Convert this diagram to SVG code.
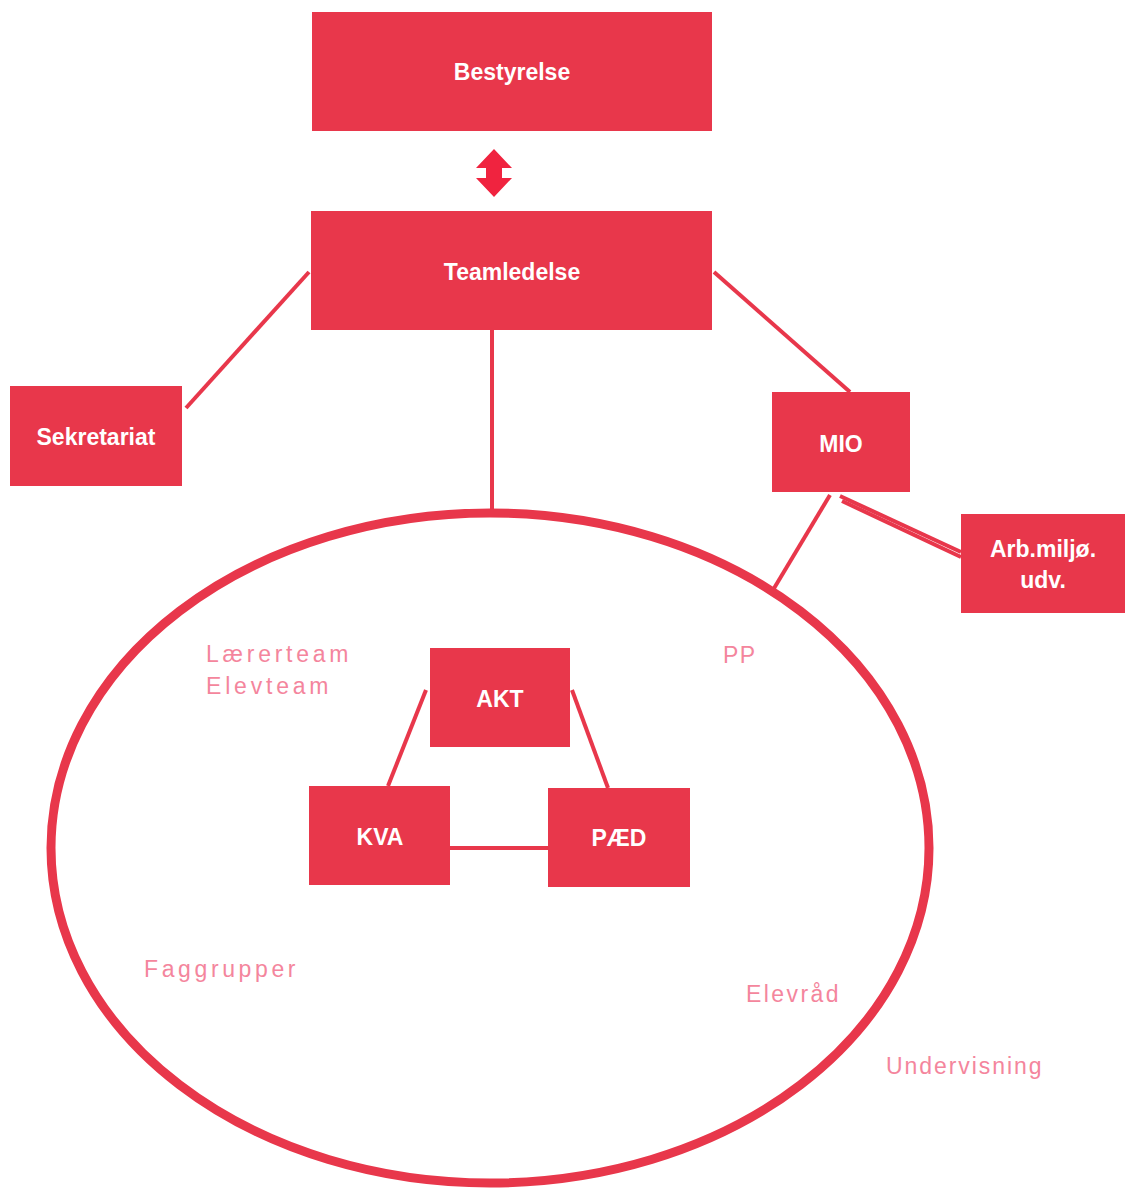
<svg xmlns="http://www.w3.org/2000/svg" width="1125" height="1190" viewBox="0 0 1125 1190">
<style>
.box{fill:#e8374b}
.lbl{fill:#ffffff;font-family:"Liberation Sans",Arial,sans-serif;font-size:23px;font-weight:bold;text-anchor:middle;dominant-baseline:central}
.ln{stroke:#e8374b;stroke-width:4;fill:none}
.faint{fill:#f3708c;font-family:"Liberation Sans",Arial,sans-serif;font-size:23px;letter-spacing:1.5px;opacity:0.85}
</style>
<rect width="1125" height="1190" fill="#ffffff"/>
<g id="connectors">
<line class="ln" x1="309" y1="272" x2="186" y2="408"/>
<line class="ln" x1="714" y1="272" x2="850" y2="392"/>
<line class="ln" x1="492" y1="330" x2="492" y2="510"/>
<line class="ln" x1="830" y1="495" x2="773" y2="590"/>
<line class="ln" x1="840" y1="496" x2="961" y2="552" stroke-width="1.5"/>
<line class="ln" x1="842" y1="501" x2="961" y2="557" stroke-width="1.5"/>
<line class="ln" x1="426" y1="690" x2="388" y2="786" stroke-width="3"/>
<line class="ln" x1="572" y1="690" x2="608" y2="788" stroke-width="3"/>
<line class="ln" x1="450" y1="848" x2="548" y2="848"/>
<path d="M494,149 L512,168 L502,168 L502,178 L512,178 L494,197 L476,178 L486,178 L486,168 L476,168 Z" fill="#f0233f"/>
</g>
<g id="ellipse">
<ellipse cx="490" cy="848" rx="439" ry="335" fill="none" stroke="#e8374b" stroke-width="9"/>
</g>
<g id="bestyrelse"><rect class="box" x="312" y="12" width="400" height="119"/><text class="lbl" x="512" y="72">Bestyrelse</text></g>
<g id="teamledelse"><rect class="box" x="311" y="211" width="401" height="119"/><text class="lbl" x="512" y="272">Teamledelse</text></g>
<g id="sekretariat"><rect class="box" x="10" y="386" width="172" height="100"/><text class="lbl" x="96" y="437">Sekretariat</text></g>
<g id="mio"><rect class="box" x="772" y="392" width="138" height="100"/><text class="lbl" x="841" y="444">MIO</text></g>
<g id="arb"><rect class="box" x="961" y="514" width="164" height="99"/><text class="lbl" x="1043" y="549">Arb.miljø.</text><text class="lbl" x="1043" y="580">udv.</text></g>
<g id="akt"><rect class="box" x="430" y="648" width="140" height="99"/><text class="lbl" x="500" y="699">AKT</text></g>
<g id="kva"><rect class="box" x="309" y="786" width="141" height="99"/><text class="lbl" x="380" y="837">KVA</text></g>
<g id="paed"><rect class="box" x="548" y="788" width="142" height="99"/><text class="lbl" x="619" y="838">PÆD</text></g>
<g id="labels">
<text class="faint" x="206" y="662" textLength="144" lengthAdjust="spacing">Lærerteam</text>
<text class="faint" x="206" y="694" textLength="124" lengthAdjust="spacing">Elevteam</text>
<text class="faint" x="723" y="663">PP</text>
<text class="faint" x="144" y="977" textLength="153" lengthAdjust="spacing">Faggrupper</text>
<text class="faint" x="746" y="1002" textLength="94" lengthAdjust="spacing">Elevråd</text>
<text class="faint" x="886" y="1074" opacity="0.6" textLength="157" lengthAdjust="spacing">Undervisning</text>
</g>
</svg>
